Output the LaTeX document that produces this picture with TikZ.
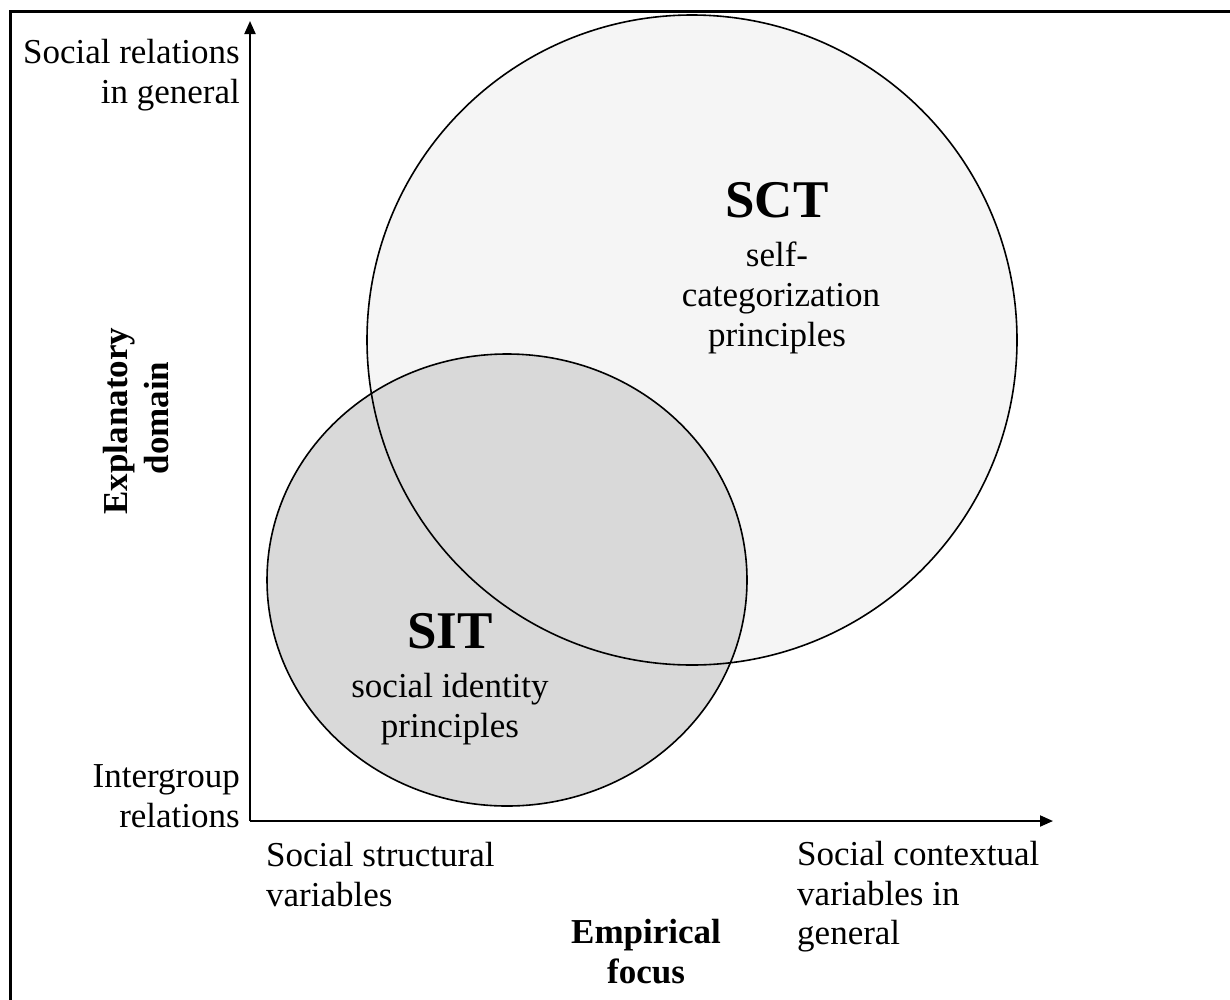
\documentclass[tikz,border=0pt]{standalone}
\usepackage{fontspec}
\setmainfont{Liberation Serif}
\usetikzlibrary{arrows.meta}
\begin{document}
\begin{tikzpicture}[x=1pt,y=-1pt,
  lbl/.style={inner sep=0pt,font=\fontsize{35}{40}\selectfont},
  boldlbl/.style={lbl,font=\fontsize{35}{40}\selectfont\bfseries},
  title/.style={inner sep=0pt,font=\fontsize{53}{60}\selectfont\bfseries},
  axis/.style={line width=2pt,-{Triangle[length=13pt,width=11pt]}},
  ring/.style={line width=1.6pt}]
\useasboundingbox (0,0) rectangle (1230,999);
% frame
\draw[line width=3pt] (10,1010) -- (10,11) -- (1240,11);
% theory circles
\fill[gray!8] (692,340) circle [radius=325pt];
\fill[gray!30] (507,580) ellipse [x radius=240pt, y radius=226pt];
\draw[ring] (692,340) circle [radius=325pt];
\draw[ring] (507,580) ellipse [x radius=240pt, y radius=226pt];
% axes
\coordinate (origin) at (250,821);
\coordinate (ytip) at (250,21);
\coordinate (xtip) at (1053,821);
\draw[axis] (origin) -- (ytip);
\draw[axis] (origin) -- (xtip);
% vertical axis labels
\node[lbl,anchor=base east] (srel1) at (240,63) {Social relations};
\node[lbl,anchor=base east] (srel2) at (240,103) {in general};
\node[lbl,anchor=base east] (igr1) at (240,787) {Intergroup};
\node[lbl,anchor=base east] (igr2) at (240,827) {relations};
\node[boldlbl,anchor=base,rotate=90] (expl1) at (127,421) {Explanatory};
\node[boldlbl,anchor=base,rotate=90] (expl2) at (168,418) {domain};
% horizontal axis labels
\node[lbl,anchor=base west] (sstr1) at (266,866) {Social structural};
\node[lbl,anchor=base west] (sstr2) at (266,906) {variables};
\node[boldlbl,anchor=base] (emp1) at (646,943) {Empirical};
\node[boldlbl,anchor=base] (emp2) at (646,983) {focus};
\node[lbl,anchor=base west] (sctx1) at (797,865) {Social contextual};
\node[lbl,anchor=base west] (sctx2) at (797,905) {variables in};
\node[lbl,anchor=base west] (sctx3) at (797,944) {general};
% SCT
\node[title,anchor=base] (sct) at (777,217) {SCT};
\node[lbl,anchor=base] (sct1) at (777,266) {self-};
\node[lbl,anchor=base] (sct2) at (781,306) {categorization};
\node[lbl,anchor=base] (sct3) at (777,346) {principles};
% SIT
\node[title,anchor=base] (sit) at (450,648) {SIT};
\node[lbl,anchor=base] (sit1) at (450,697) {social identity};
\node[lbl,anchor=base] (sit2) at (450,737) {principles};
\end{tikzpicture}
\end{document}
